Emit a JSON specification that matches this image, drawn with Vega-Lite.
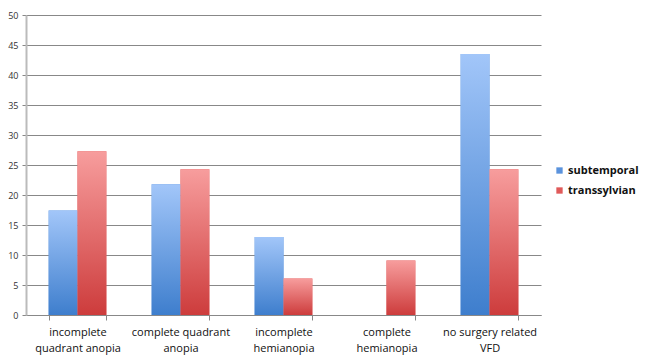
{
  "$schema": "https://vega.github.io/schema/vega-lite/v6.json",
  "autosize": "none",
  "width": 515,
  "height": 300,
  "padding": {"left": 26, "top": 15, "right": 105, "bottom": 44},
  "background": "white",
  "config": {
    "view": {"stroke": null},
    "font": "Open Sans"
  },
  "data": {
    "values": [
      {"category": "incomplete quadrant anopia", "series": "subtemporal", "value": 17.4},
      {"category": "incomplete quadrant anopia", "series": "transsylvian", "value": 27.3},
      {"category": "complete quadrant anopia", "series": "subtemporal", "value": 21.8},
      {"category": "complete quadrant anopia", "series": "transsylvian", "value": 24.3},
      {"category": "incomplete hemianopia", "series": "subtemporal", "value": 13.0},
      {"category": "incomplete hemianopia", "series": "transsylvian", "value": 6.1},
      {"category": "complete hemianopia", "series": "subtemporal", "value": 0},
      {"category": "complete hemianopia", "series": "transsylvian", "value": 9.1},
      {"category": "no surgery related VFD", "series": "subtemporal", "value": 43.5},
      {"category": "no surgery related VFD", "series": "transsylvian", "value": 24.3}
    ]
  },
  "encoding": {
    "x": {
      "field": "category",
      "type": "nominal",
      "sort": null,
      "scale": {"paddingInner": 0.44, "paddingOuter": 0.22},
      "axis": {
        "title": null,
        "labelAngle": 0,
        "labelExpr": "datum.label == 'incomplete quadrant anopia' ? ['incomplete', 'quadrant anopia'] : datum.label == 'complete quadrant anopia' ? ['complete quadrant', 'anopia'] : datum.label == 'incomplete hemianopia' ? ['incomplete', 'hemianopia'] : datum.label == 'complete hemianopia' ? ['complete', 'hemianopia'] : datum.label == 'no surgery related VFD' ? ['no surgery related', 'VFD'] : ''",
        "labelFontSize": 11,
        "labelFontWeight": 500,
        "labelColor": "#111",
        "labelPadding": 6,
        "labelLineHeight": 16,
        "tickBand": "extent",
        "tickSize": 5,
        "tickColor": "#888",
        "domainColor": "#888"
      }
    },
    "xOffset": {"field": "series", "type": "nominal"},
    "y": {
      "field": "value",
      "type": "quantitative",
      "scale": {"domain": [0, 50], "nice": false},
      "axis": {
        "title": null,
        "values": [0, 5, 10, 15, 20, 25, 30, 35, 40, 45, 50],
        "labelFontSize": 9,
        "labelColor": "#333",
        "labelPadding": 4,
        "tickSize": 4,
        "tickColor": "#888",
        "domainColor": "#bbb",
        "domainWidth": 2,
        "gridColor": "#888",
        "gridWidth": 1
      }
    }
  },
  "layer": [
    {
      "mark": {"type": "bar"},
      "encoding": {
        "color": {
          "field": "series",
          "type": "nominal",
          "scale": {"domain": ["subtemporal", "transsylvian"], "range": ["#5b93dd", "#e05a5a"]},
          "legend": {
            "title": null,
            "orient": "none",
            "legendX": 528,
            "legendY": 150,
            "symbolType": "square",
            "symbolSize": 40,
            "labelFontSize": 11,
            "labelFontWeight": "bold",
            "labelColor": "#111",
            "rowPadding": 8,
            "labelOffset": 3
          }
        }
      }
    },
    {
      "mark": {"type": "bar"},
      "encoding": {
        "fill": {
          "condition": {
            "test": "datum.series === 'subtemporal'",
            "value": {"gradient": "linear", "x1": 0, "y1": 0, "x2": 0, "y2": 1, "stops": [{"offset": 0, "color": "#a2c6f9"}, {"offset": 1, "color": "#3e7ecd"}]}
          },
          "value": {"gradient": "linear", "x1": 0, "y1": 0, "x2": 0, "y2": 1, "stops": [{"offset": 0, "color": "#f79d9d"}, {"offset": 1, "color": "#cd3c3c"}]}
        }
      }
    }
  ]
}
